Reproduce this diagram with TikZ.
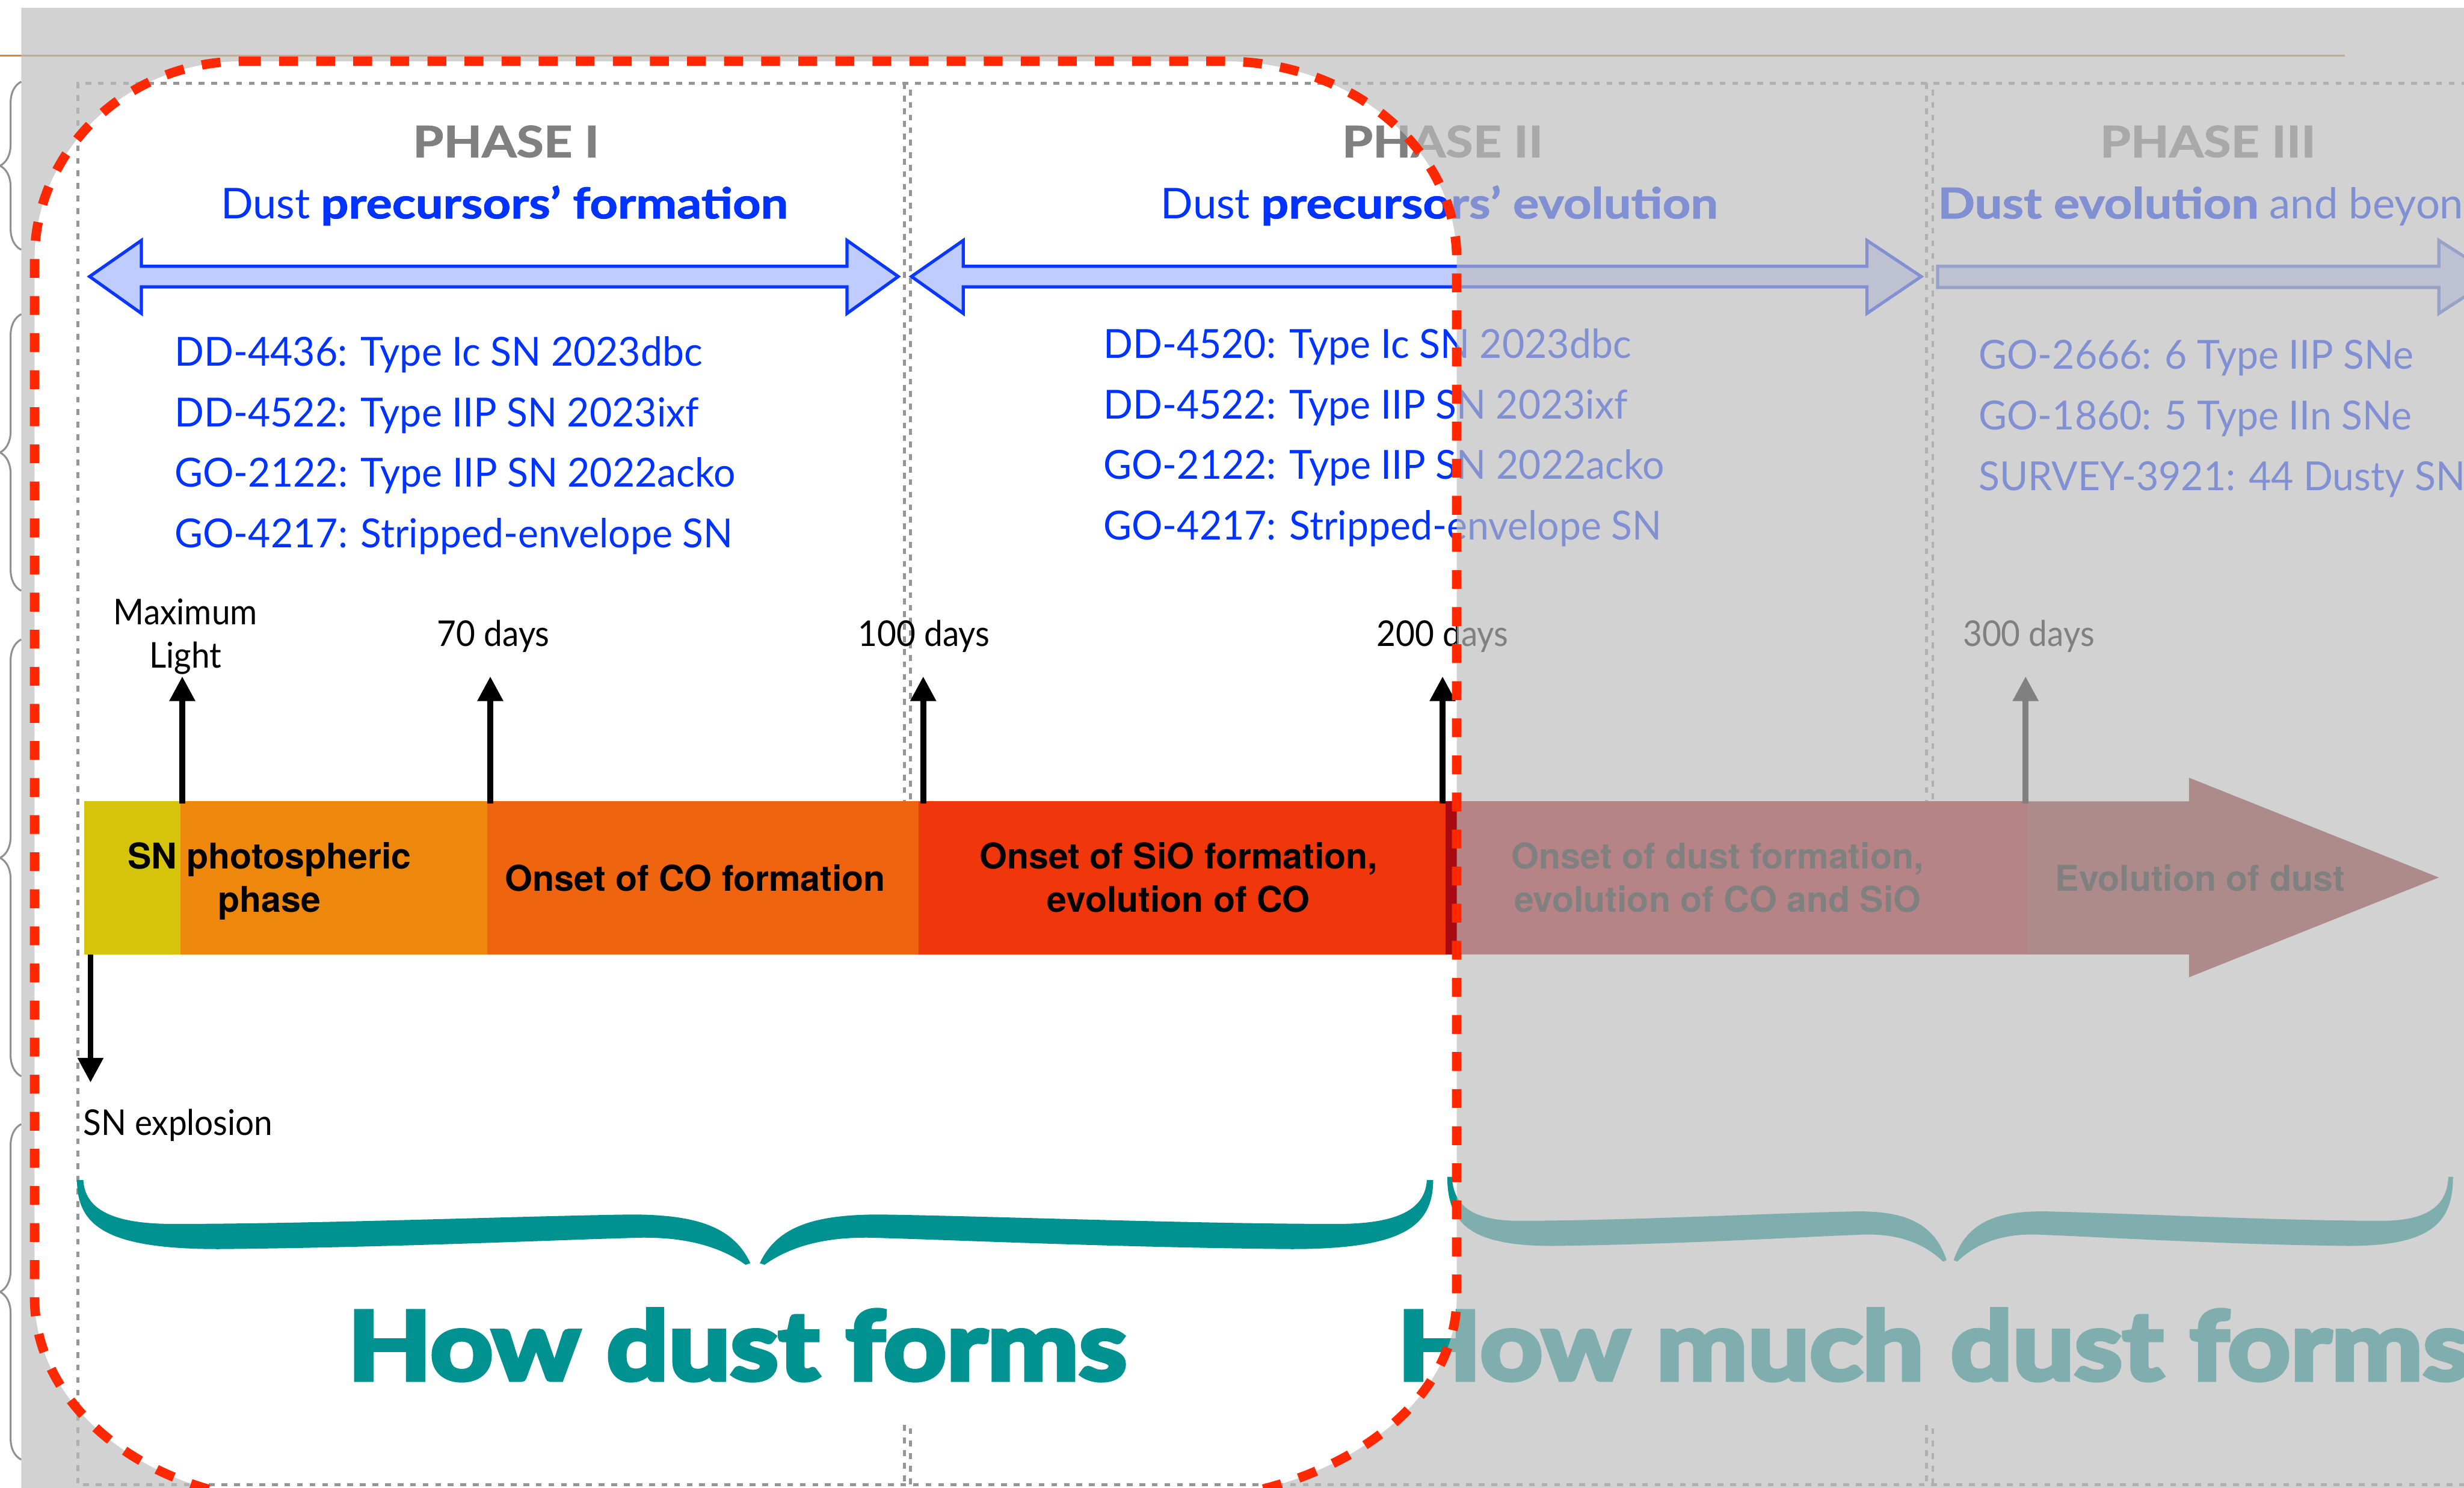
\documentclass[tikz,border=0pt]{standalone}
\usepackage{fontspec}
\setmainfont{Lato}
\newfontfamily\barfont{TeX Gyre Heros}
\newfontfamily\widefont[BoldFeatures={FakeStretch=1.15, FakeBold=1.5}]{Lato}
\newfontfamily\obsfamily[FakeStretch=0.965]{Lato}
\newfontfamily\dayfamily[FakeStretch=0.93]{Lato}
\newfontfamily\headfont[BoldFeatures={FakeBold=5, FakeStretch=1.16}]{Lato}
\usetikzlibrary{arrows.meta,decorations.pathreplacing}
\definecolor{phasegray}{RGB}{128,128,128}
\definecolor{listblue}{RGB}{0,51,255}
\definecolor{spanblue}{RGB}{10,55,255}
\definecolor{spanfill}{RGB}{190,204,255}
\definecolor{spanmute}{RGB}{70,110,220}
\definecolor{cyel}{RGB}{213,195,12}
\definecolor{corange}{RGB}{238,136,12}
\definecolor{cdkor}{RGB}{238,100,15}
\definecolor{cred}{RGB}{240,55,12}
\definecolor{cdred}{RGB}{168,10,20}
\definecolor{carrow}{RGB}{140,35,32}
\definecolor{dustteal}{RGB}{0,145,145}
\definecolor{focusred}{RGB}{255,40,0}
\definecolor{framegray}{RGB}{150,150,150}
\definecolor{shadegray}{RGB}{189,189,189}
\definecolor{bracegray}{RGB}{145,145,145}
\definecolor{ruleorange}{RGB}{223,129,67}
\newcommand{\phasefont}{\widefont\bfseries\fontsize{27.5}{32}\selectfont}
\newcommand{\goalfont}{\widefont\fontsize{27}{31}\selectfont}
\newcommand{\obsfont}{\obsfamily\fontsize{25.5}{30}\selectfont}
\newcommand{\dayfont}{\dayfamily\fontsize{22.6}{26}\selectfont}
\newcommand{\segfont}{\barfont\bfseries\fontsize{22.6}{26}\selectfont}
\newcommand{\howfont}{\headfont\bfseries\fontsize{60}{70}\selectfont}
% teal brace under the bar: left end, cusp, right end, top, colour
\newcommand{\dustbrace}[5]{%
  \fill[#5, shift={(#1,#4)}, xscale={(#2-#1)/430}, halfbrace];
  \fill[#5, shift={(#3,#4)}, xscale={-(#3-#2)/430}, halfbrace];}
\tikzset{
  phase/.style={font=\phasefont, text=phasegray, anchor=base, inner sep=0pt},
  goal/.style={font=\goalfont, text=listblue, anchor=base, inner sep=0pt},
  obs/.style={font=\obsfont, text=listblue, anchor=base west, inner sep=0pt},
  day/.style={font=\dayfont, anchor=base, inner sep=0pt},
  seglab/.style={font=\segfont, anchor=base, inner sep=0pt},
  howtext/.style={font=\howfont, text=dustteal, anchor=base west, inner sep=0pt},
  daytick/.style={-{Triangle[width=15.6pt,length=15.7pt]}, line width=3.7pt},
  gridline/.style={framegray, line width=1.8pt, dash pattern=on 3.7pt off 4.3pt},
  spanarrow/.style={draw=spanblue, fill=spanfill, line width=2pt, line join=miter},
  veil/.style={fill=shadegray, fill opacity=0.68, even odd rule},
  focus/.style={draw=focusred, line width=6pt, dash pattern=on 12pt off 11.6pt},
  margbrace/.style={decorate, decoration={brace, amplitude=13.5pt}, draw=bracegray, line width=1.2pt},
  focusline/.style={insert path={(154,39) -- (779,39)
      arc[start angle=270, end angle=360, x radius=148, y radius=126] -- (927,826)
      arc[start angle=0, end angle=90, x radius=190, y radius=130] -- (192,956)
      arc[start angle=90, end angle=180, x radius=170, y radius=130] -- (22,165)
      arc[start angle=180, end angle=270, x radius=132, y radius=126] -- cycle}},
  halfbrace/.style={insert path={(0,0) .. controls (0,30) and (20,44) .. (90,44)
      .. controls (200,43) and (310,38) .. (349,37)
      .. controls (388,35) and (410,44) .. (424,54) -- (427,53)
      .. controls (416,29) and (391,22) .. (351,22)
      .. controls (281,23) and (151,28) .. (61,28)
      .. controls (21,28) and (5,18) .. (4,0) -- cycle}},
}
\begin{document}
\begin{tikzpicture}[x=1pt, y=-1pt]
  \useasboundingbox (0,0) rectangle (1568,947);
  \clip (0,0) rectangle (1568,947);
  \fill[white] (0,0) rectangle (1568,947);
  \draw[ruleorange, line width=1pt] (0,35.3) -- (1492,35.3);
  % dotted page frame and phase dividers
  \draw[gridline] (1570,53) -- (49.5,53) -- (49.5,945) -- (1570,945);
  \draw[gridline] (575.5,53) -- (575.5,607) (579.5,57) -- (579.5,607);
  \draw[gridline] (575.5,907) -- (575.5,945) (579.5,909) -- (579.5,945);
  \draw[gridline] (1226,53) -- (1226,607) (1230,57) -- (1230,607);
  \draw[gridline] (1226,907) -- (1226,945) (1230,909) -- (1230,945);
  % phase headers
  \node[phase] (ph1) at (322,100) {PHASE I};
  \node[phase] (ph2) at (918,100) {PHASE II};
  \node[phase] (ph3) at (1405,100) {PHASE III};
  \node[goal] (goal1) at (321,139) {Dust \textbf{precursors’ formation}};
  \node[goal] (goal2) at (916,139) {Dust \textbf{precursors’ evolution}};
  \node[goal, anchor=base west] (goal3) at (1233,139) {\textbf{Dust evolution} and beyond};
  \draw[spanarrow] (57,176) -- (90,153) -- (90,169.5) -- (539,169.5) -- (539,153) -- (571.6,176)
    -- (539,199.5) -- (539,182.6) -- (90,182.6) -- (90,199.5) -- cycle;
  \draw[spanarrow] (580,176) -- (613,153) -- (613,169.5) -- (1188,169.5) -- (1188,153) -- (1222.6,176)
    -- (1188,199.5) -- (1188,182.6) -- (613,182.6) -- (613,199.5) -- cycle;
  \draw[spanarrow, draw=spanmute] (1233,169.5) -- (1552,169.5) -- (1552,153) -- (1588,176)
    -- (1552,199.5) -- (1552,183) -- (1233,183) -- cycle;
  % programmes
  \node[obs] (p1a) at (111,233) {DD-4436: Type Ic SN 2023dbc};
  \node[obs] (p1b) at (111,271.5) {DD-4522: Type IIP SN 2023ixf};
  \node[obs] (p1c) at (111,310) {GO-2122: Type IIP SN 2022acko};
  \node[obs] (p1d) at (111,348.5) {GO-4217: Stripped-envelope SN};
  \node[obs] (p2a) at (702,228) {DD-4520: Type Ic SN 2023dbc};
  \node[obs] (p2b) at (702,266.5) {DD-4522: Type IIP SN 2023ixf};
  \node[obs] (p2c) at (702,305) {GO-2122: Type IIP SN 2022acko};
  \node[obs] (p2d) at (702,343.5) {GO-4217: Stripped-envelope SN};
  \node[obs] (p3a) at (1259,235) {GO-2666: 6 Type IIP SNe};
  \node[obs] (p3b) at (1259,273.5) {GO-1860: 5 Type IIn SNe};
  \node[obs] (p3c) at (1259,312) {SURVEY-3921: 44 Dusty SNe};
  % timeline bar
  \fill[cyel] (53.5,510) rectangle (115,607.5);
  \fill[corange] (115,510) rectangle (310,607.5);
  \fill[cdkor] (310,510) rectangle (584.5,607.5);
  \fill[cred] (584.5,510) rectangle (920,607.5);
  \fill[cdred] (920,510) rectangle (1290,607.5);
  \fill[carrow] (1290,510) -- (1393,510) -- (1393,495) -- (1552,558.5) -- (1393,622)
    -- (1393,607.5) -- (1290,607.5) -- cycle;
  \node[seglab] (photo1) at (171.5,553) {SN photospheric};
  \node[seglab] (photo2) at (171.5,580.5) {phase};
  \node[seglab] (coform) at (442.5,567) {Onset of CO formation};
  \node[seglab] (sio1) at (750,553) {Onset of SiO formation,};
  \node[seglab] (sio2) at (750,580.5) {evolution of CO};
  \node[seglab] (dust1) at (1093,553) {Onset of dust formation,};
  \node[seglab] (dust2) at (1093,580.5) {evolution of CO and SiO};
  \node[seglab] (dustevo) at (1400,567) {Evolution of dust};
  % epochs
  \node[day] (dmax) at (118,397.5) {Maximum};
  \node[day] (dlight) at (118,425) {Light};
  \node[day] (d70) at (314,411.5) {70 days};
  \node[day] (d100) at (588,411.5) {100 days};
  \node[day] (d200) at (918,411.5) {200 days};
  \node[day] (d300) at (1291,411.5) {300 days};
  \node[day, anchor=base west] (dsn) at (52.7,722.5) {SN explosion};
  \coordinate (barmax) at (116,511.5); \coordinate (tipmax) at (116,430.5);
  \coordinate (bar70) at (312,511.5); \coordinate (tip70) at (312,430.5);
  \coordinate (bar100) at (587.5,511.5); \coordinate (tip100) at (587.5,430.5);
  \coordinate (bar200) at (918,511.5); \coordinate (tip200) at (918,430.5);
  \coordinate (bar300) at (1289,511.5); \coordinate (tip300) at (1289,430.5);
  \coordinate (barsn) at (57.6,607.5); \coordinate (tipsn) at (57.6,689);
  \draw[daytick] (barmax) -- (tipmax);
  \draw[daytick] (bar70) -- (tip70);
  \draw[daytick] (bar100) -- (tip100);
  \draw[daytick] (bar200) -- (tip200);
  \draw[daytick] (bar300) -- (tip300);
  \draw[daytick] (barsn) -- (tipsn);
  % how / how much
  \dustbrace{49}{480.5}{912}{751}{dustteal}
  \dustbrace{921}{1241}{1561}{749}{dustteal}
  \node[howtext] (how) at (221,878) {How dust forms};
  \node[howtext] (howmuch) at (889,878) {How much dust forms};
  % grey veil outside the focus box
  \fill[veil, focusline] (13.5,5) rectangle (1572,962);
  \draw[focus, focusline];
  \draw[margbrace] (13.5,159) -- (13.5,52);
  \draw[margbrace] (13.5,376) -- (13.5,200);
  \draw[margbrace] (13.5,685) -- (13.5,407);
  \draw[margbrace] (13.5,929) -- (13.5,715.5);
\end{tikzpicture}
\end{document}
